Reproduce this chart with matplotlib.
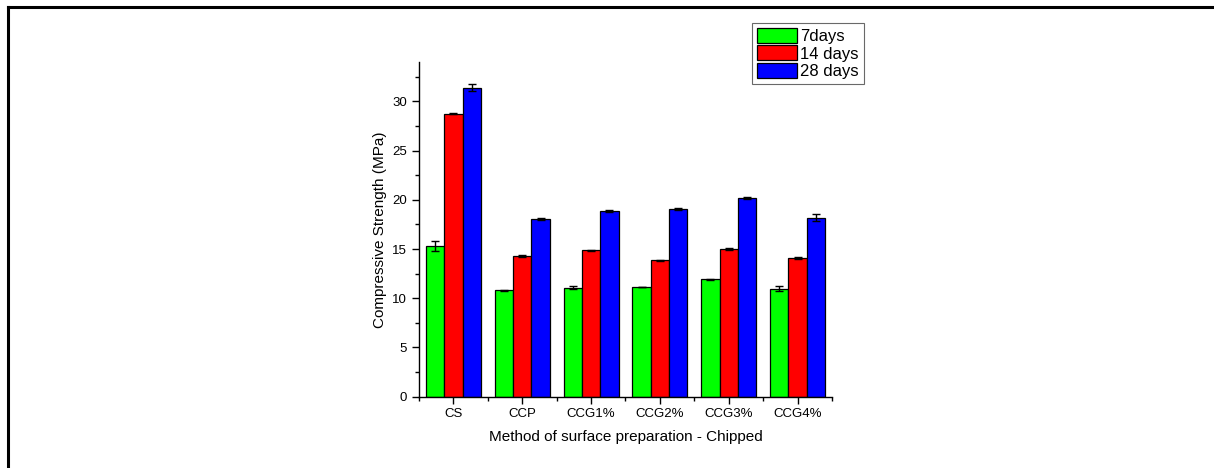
import numpy as np
import matplotlib
matplotlib.use("Agg")
from matplotlib import pyplot as plt
from matplotlib.lines import Line2D
from matplotlib.ticker import MultipleLocator, FixedLocator

plt.rcParams['font.family'] = ['Liberation Sans', 'DejaVu Sans']

methods = ["CS", "CCP", "CCG1%", "CCG2%", "CCG3%", "CCG4%"]

days7 = [15.3, 10.8, 11.07, 11.14, 11.92, 10.96]
days7_err = [0.55, 0.04, 0.15, 0.04, 0.07, 0.25]

days14 = [28.73, 14.3, 14.86, 13.85, 15.03, 14.05]
days14_err = [0.05, 0.06, 0.06, 0.03, 0.1, 0.1]

days28 = [31.41, 18.04, 18.88, 19.09, 20.2, 18.17]
days28_err = [0.4, 0.12, 0.12, 0.08, 0.1, 0.37]

series = [(days7, days7_err, "#00ff00", "7days"),
          (days14, days14_err, "#ff0000", "14 days"),
          (days28, days28_err, "#0000ff", "28 days")]

fig = plt.figure(figsize=(12.14, 4.68), dpi=100)
ax = fig.add_axes([0.3451, 0.1524, 0.3402, 0.7151])

x = np.arange(len(methods))
width = 0.8 / 3

for i, (vals, errs, col, lab) in enumerate(series):
    ax.bar(x + (i - 1) * width, vals, width, color=col, edgecolor="black",
           linewidth=0.9, label=lab, yerr=errs, capsize=3,
           error_kw=dict(ecolor="black", elinewidth=1, capthick=1))

ax.set_xlim(-0.5, len(methods) - 0.5)
ax.set_ylim(0, 34)
ax.set_xticks(x)
ax.set_xticklabels(methods)
ax.xaxis.set_minor_locator(FixedLocator(np.arange(-0.5, len(methods), 1.0)))
ax.yaxis.set_major_locator(MultipleLocator(5))
ax.yaxis.set_minor_locator(MultipleLocator(2.5))

ax.spines["top"].set_visible(False)
ax.spines["right"].set_visible(False)
for s in ["left", "bottom"]:
    ax.spines[s].set_linewidth(1.0)

ax.tick_params(which="major", direction="out", length=5, width=1, labelsize=9.5)
ax.tick_params(which="minor", direction="out", length=3, width=1)

ax.set_xlabel("Method of surface preparation - Chipped", fontsize=11, labelpad=7)
ax.set_ylabel("Compressive Strength (MPa)", fontsize=11, labelpad=4)

leg = fig.legend(loc="upper left", bbox_to_anchor=(0.6194, 0.9509),
                 fontsize=12, fancybox=False, frameon=True, handlelength=2.4,
                 handleheight=1.0, labelspacing=0.08, handletextpad=0.2,
                 borderpad=0.3, borderaxespad=0)
leg.get_frame().set_edgecolor("#444444")
leg.get_frame().set_linewidth(0.8)

# page frame (left and top edges)
fig.add_artist(Line2D([0.007, 0.007], [0.0, 0.984], transform=fig.transFigure,
                      color="black", lw=2.2))
fig.add_artist(Line2D([0.007, 1.0], [0.984, 0.984], transform=fig.transFigure,
                      color="black", lw=2.2))

plt.savefig("out.png", dpi=100)
